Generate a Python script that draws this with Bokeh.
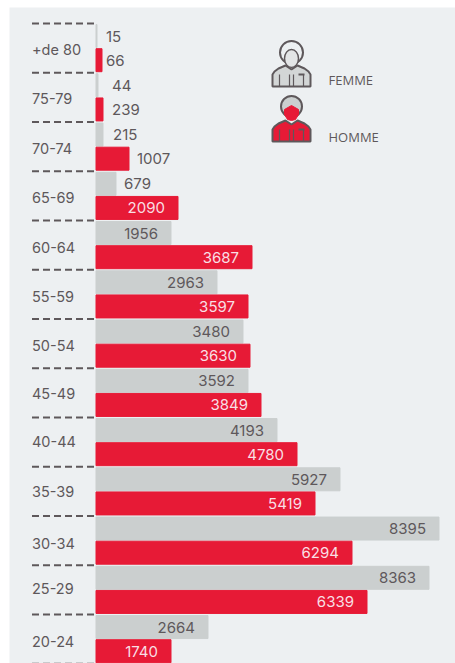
from bokeh.plotting import figure
from bokeh.models import Range1d
from bokeh.core.properties import value
from bokeh.embed import file_html
from bokeh.resources import INLINE

ages = ["+de 80","75-79","70-74","65-69","60-64","55-59","50-54","45-49","40-44","35-39","30-34","25-29","20-24"]
femme_labels = ["15","44","215","679","1956","2963","3480","3592","4193","5927","8395","8363","2664"]
homme_labels = ["66","239","1007","2090","3687","3597","3630","3849","4780","5419","6294","6339","1740"]
# Bar lengths as drawn in the picture (they do not scale exactly with their labels)
femme_bars = [24, 48, 168, 480, 1800, 2904, 3528, 3648, 4344, 5856, 8232, 7992, 2688]
homme_bars = [144, 168, 792, 1968, 3744, 3648, 3696, 3960, 4824, 5256, 6144, 6504, 1800]
# Where each label sits relative to its bar end: inside (True) or outside (False)
label_inside_f = [False]*4 + [True]*9
label_inside_h = [False]*3 + [True]*10
out_gap_f = [9, 14, 10, 8] + [0]*9
out_gap_h = [4, 9, 8] + [0]*10
age_label_shift = [.03,.02,.04,.03,.05,.05,.03,.02,-.02,.0,.06,-.02,.05]

FONT = "Inter"
DARK = "#5e585b"
RED = "#e71a36"
GREY = "#cbcfcf"
PANEL = "#edf0f2"
W, H = 455, 663
LEFT, TOP = 9, 7
ZERO_X = 95.5
FIRST_SEP = 23
UX = 24.0           # value units per pixel
PITCH = 49.25       # pixels per age group

xs = (LEFT-ZERO_X)*UX
ys = -0.5 - (FIRST_SEP-TOP)/PITCH
p = figure(width=W, height=H, output_backend="svg", toolbar_location=None,
           x_range=Range1d(xs, xs+(W-LEFT)*UX), y_range=Range1d(ys+(H-TOP)/PITCH, ys),
           min_border_left=LEFT, min_border_right=0, min_border_top=TOP, min_border_bottom=0,
           background_fill_color=PANEL, border_fill_color="white", outline_line_color=None)
p.axis.visible = False
p.grid.visible = False

idx = list(range(len(ages)))
BH = 23/PITCH
f_y = [i-0.25+0.005 for i in idx]
h_y = [i+0.25-0.005 for i in idx]
p.hbar(y=f_y, right=femme_bars, left=0, height=BH, color=GREY)
p.hbar(y=h_y, right=homme_bars, left=0, height=BH, color=RED)

# dashed group separators
sep = [i-0.5 for i in range(len(ages)+1)]
p.multi_line(xs=[[-64*UX, 0] for _ in sep], ys=[[s, s] for s in sep],
             line_color=DARK, line_width=2, line_dash="7 4")

# age labels
p.text(x=[-64*UX]*len(ages), y=[i+s for i, s in zip(idx, age_label_shift)], text=ages,
       text_font=value(FONT), text_font_size="14.5px", text_color=DARK,
       text_align="left", text_baseline="middle")

def labels(ys_, bars, texts, inside, gaps, in_color):
    ins_x, ins_t, ins_y, out_x, out_t, out_y = [], [], [], [], [], []
    for y, b, t, a, g in zip(ys_, bars, texts, inside, gaps):
        if a:
            ins_x.append(b-13*UX); ins_t.append(t); ins_y.append(y)
        else:
            out_x.append(b+g*UX); out_t.append(t); out_y.append(y)
    p.text(x=ins_x, y=ins_y, text=ins_t, text_font=value(FONT), text_font_size="15px",
           text_color=in_color, text_align="right", text_baseline="middle")
    p.text(x=out_x, y=out_y, text=out_t, text_font=value(FONT), text_font_size="15px",
           text_color=DARK, text_align="left", text_baseline="middle")

labels(f_y, femme_bars, femme_labels, label_inside_f, out_gap_f, DARK)
labels(h_y, homme_bars, homme_labels, label_inside_h, out_gap_h, "#f9dfe4")

# legend icons, drawn in page pixels
def px(x): return (x-ZERO_X)*UX
def py(y): return ys + (y-TOP)/PITCH

def body(cx, bt, bot, fill):
    bx = [cx-19, cx-19, cx-17, cx-13, cx-6, cx, cx+6, cx+13, cx+17, cx+19, cx+19]
    by = [bot, bt+9, bt+6, bt+3, bt, bt+4, bt, bt+3, bt+6, bt+9, bot]
    p.patch([px(v) for v in bx], [py(v) for v in by], fill_color=fill, line_color=DARK, line_width=2)
    for dx in (-12, -2, 2, 12):
        p.line([px(cx+dx)]*2, [py(bt+9), py(bot)], line_color=DARK, line_width=1.2)
    p.line([px(cx+7), px(cx+13)], [py(bt+9)]*2, line_color=DARK, line_width=2)

# femme
body(291, 65, 86, "#d3d6d6")
p.ellipse([px(291)], [py(52)], width=23*UX, height=23/PITCH, fill_color=PANEL, line_color=DARK, line_width=2)
p.ellipse([px(291)], [py(58)], width=14*UX, height=18/PITCH, fill_color="#e3e5e6", line_color=DARK, line_width=1.5)
# homme
body(291, 120, 141, RED)
p.ellipse([px(291)], [py(106)], width=21*UX, height=21/PITCH, fill_color=GREY, line_color=DARK, line_width=2)
p.patch([px(v) for v in (284, 291, 298, 298, 295, 291, 287, 284)],
        [py(v) for v in (109, 105, 109, 114, 119, 120, 119, 114)],
        fill_color=RED, line_color=RED)

p.text(x=[px(328), px(328)], y=[py(79), py(136)], text=["FEMME", "HOMME"],
       text_font=value("Open Sans"), text_font_size="13px", text_color=DARK,
       text_align="left", text_baseline="middle")

open("out.html", "w").write(file_html(p, INLINE))
